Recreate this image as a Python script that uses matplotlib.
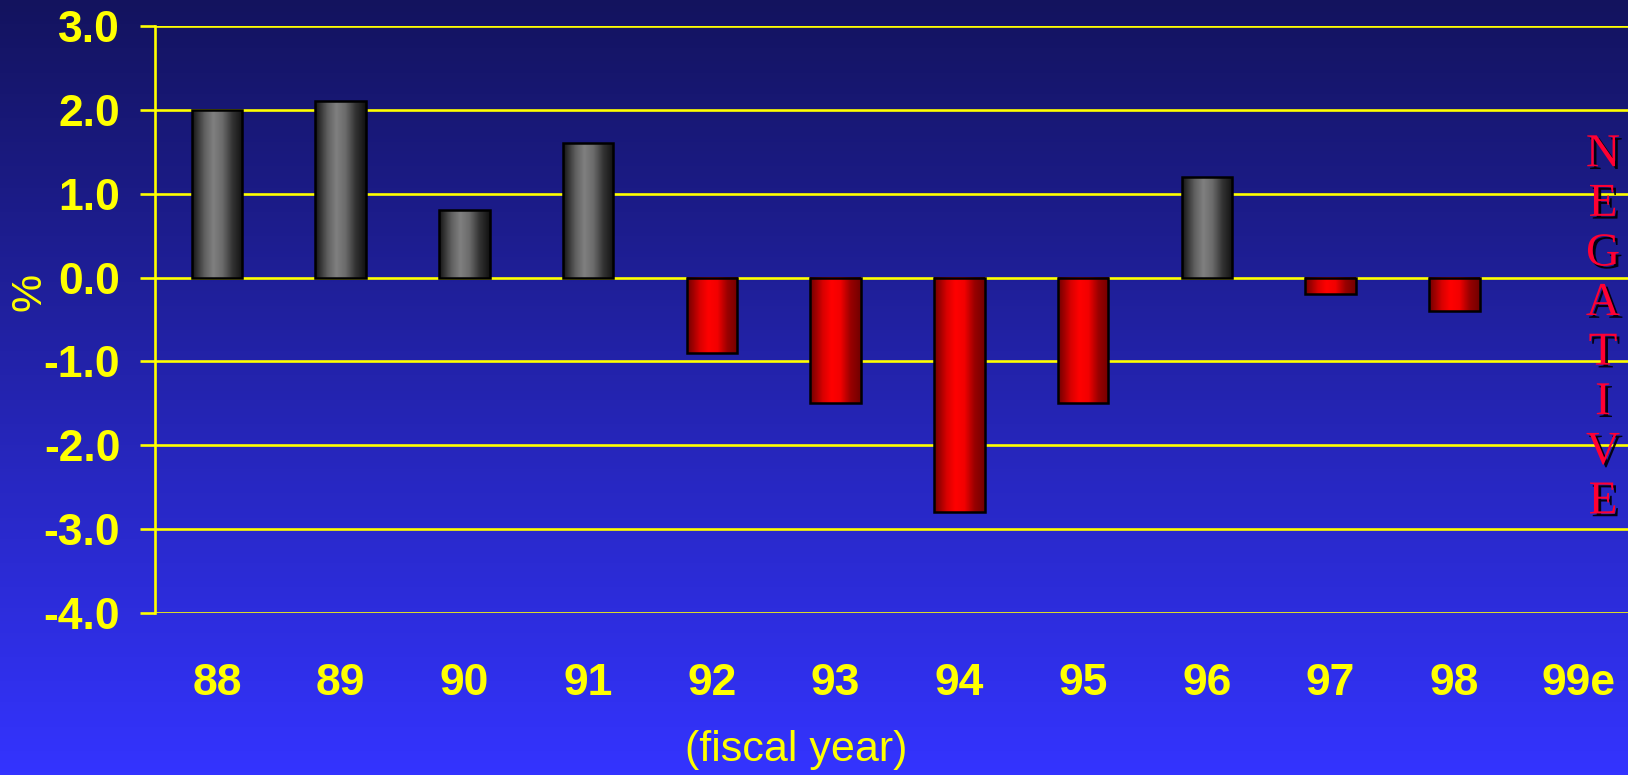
import numpy as np
import matplotlib.pyplot as plt
import matplotlib.patheffects as pe

years = ["88", "89", "90", "91", "92", "93", "94", "95", "96", "97", "98", "99e"]
growth = [2.0, 2.1, 0.8, 1.6, -0.9, -1.5, -2.8, -1.5, 1.2, -0.2, -0.4, np.nan]
yticks = [3.0, 2.0, 1.0, 0.0, -1.0, -2.0, -3.0, -4.0]

W, H = 1628, 775
fig = plt.figure(figsize=(W / 100, H / 100), dpi=100)

# background gradient, dark navy at top to bright blue at bottom
bg = fig.add_axes([0, 0, 1, 1], zorder=-10)
top = np.array([0x13, 0x13, 0x5E]) / 255
bot = np.array([0x34, 0x34, 0xFF]) / 255
s = np.linspace(0, 1, 256)[:, None]
bg.imshow((top + (bot - top) * s)[:, None, :].repeat(2, axis=1), aspect="auto",
          extent=[0, 1, 0, 1])
bg.axis("off")

ax = fig.add_axes([155 / W, 1 - 613 / H, 1485 / W, 587 / H])
ax.set_facecolor("none")
x = np.arange(len(years))
bars = ax.bar(x, growth, width=0.41, color="none", edgecolor="black", lw=1.8, zorder=3)

# cylinder-like shading across each bar
t = np.linspace(0, 1, 64)
knots = [0, 0.1, 0.25, 0.42, 0.6, 0.8, 1]
grey = np.interp(t, knots, [0.08, 0.2, 0.38, 0.5, 0.42, 0.2, 0.07])
red = np.interp(t, knots, [0.45, 0.6, 0.85, 1.0, 0.95, 0.6, 0.45])
grey_img = np.stack([grey, grey, grey], axis=-1)[None, :, :]
red_img = np.stack([red, red * 0, red * 0], axis=-1)[None, :, :]
for b, v in zip(bars, growth):
    if np.isnan(v):
        continue
    x0, w = b.get_x(), b.get_width()
    y0, h = b.get_y(), b.get_height()
    img = grey_img if v >= 0 else red_img
    ax.imshow(img, aspect="auto", extent=[x0, x0 + w, min(y0, y0 + h), max(y0, y0 + h)],
              zorder=2, interpolation="bilinear")

ax.set_xlim(-0.5, len(years) - 0.5)
ax.set_ylim(-4, 3)
ax.set_yticks(yticks)
ax.set_yticklabels([f"{v:.1f}" for v in yticks])
ax.set_xticks(x)
ax.set_xticklabels(years)
for yv in yticks:
    ax.axhline(yv, color="#FFFF00", lw=1.9, zorder=1)

for sp in ["top", "right", "bottom"]:
    ax.spines[sp].set_visible(False)
ax.spines["left"].set_color("#FFFF00")
ax.spines["left"].set_linewidth(1.9)
ax.tick_params(axis="y", colors="#FFFF00", length=11, width=1.9, pad=14)
ax.tick_params(axis="x", length=0, pad=36, colors="#FFFF00")
for lab in ax.get_xticklabels() + ax.get_yticklabels():
    lab.set_fontfamily("Liberation Sans")
    lab.set_fontweight("bold")
    lab.set_fontsize(32)

fig.text(30 / W, 1 - 292 / H, "%", rotation=90, color="#FFFF00", fontsize=31,
         family="Liberation Sans", ha="center", va="center")
fig.text(767 / 1568, 1 - 750 / H, "(fiscal year)", color="#FFFF00", fontsize=31,
         family="Liberation Sans", ha="center", va="center")

for i, ch in enumerate("NEGATIVE"):
    fig.text(1603 / W, 1 - (155 + i * 49.6) / H, ch, color="#FF0033", fontsize=34,
             family="Liberation Serif", ha="center", va="center",
             path_effects=[pe.withSimplePatchShadow(offset=(2, -2), shadow_rgbFace="black", alpha=0.9)])

fig.savefig("out.png", dpi=100)
